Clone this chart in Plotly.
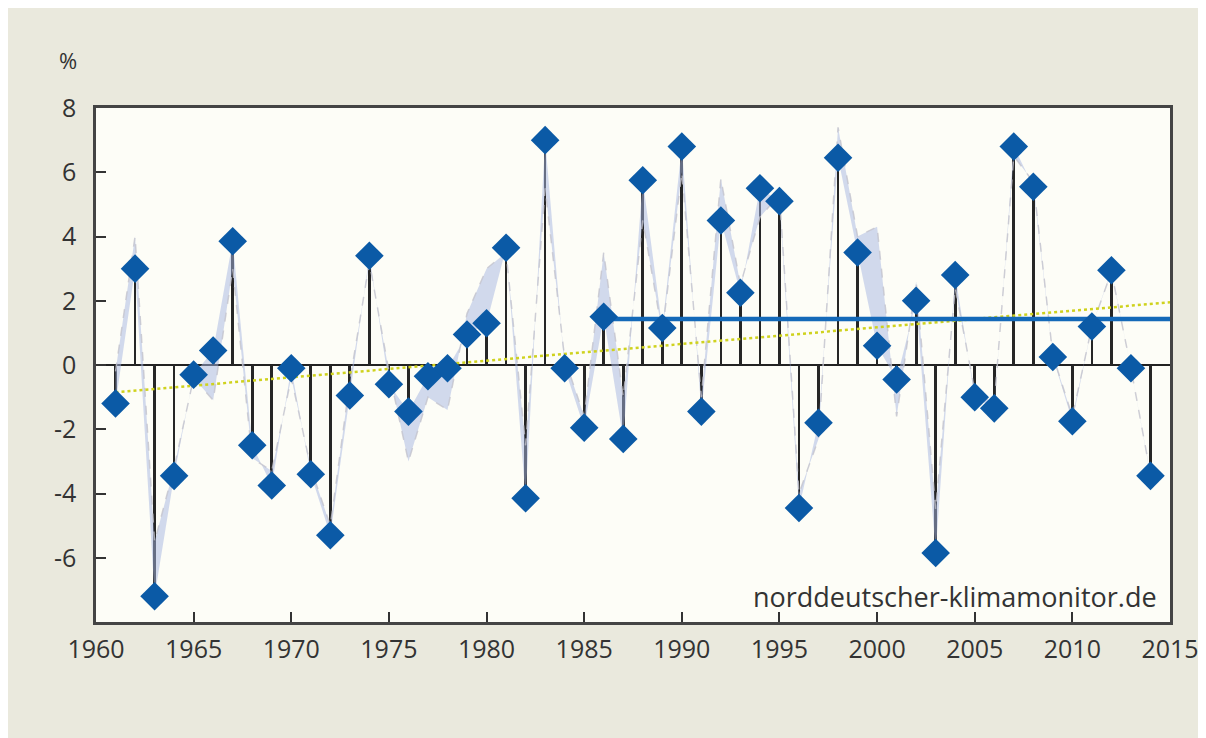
import plotly.graph_objects as go

years = list(range(1961, 2015))
values = [-1.2, 3.0, -7.2, -3.45, -0.3, 0.45, 3.85, -2.5, -3.75, -0.1,
          -3.4, -5.3, -0.95, 3.4, -0.6, -1.45, -0.35, -0.1, 0.95, 1.3,
          3.65, -4.15, 7.0, -0.1, -1.95, 1.5, -2.3, 5.75, 1.15, 6.8,
          -1.45, 4.5, 2.25, 5.5, 5.1, -4.45, -1.8, 6.45, 3.5, 0.6,
          -0.45, 2.0, -5.85, 2.8, -1.0, -1.35, 6.8, 5.55, 0.25, -1.75,
          1.2, 2.95, -0.1, -3.45]
alt_values = [-0.2, 4.0, -5.5, -3.2, -0.4, -1.1, 3.0, -2.9, -3.3, -0.4,
              -3.2, -5.0, -0.5, 3.2, -0.2, -3.0, -1.0, -1.4, 1.6, 3.0,
              3.5, -2.5, 5.5, 0.2, -1.6, 3.5, -1.0, 4.5, 1.0, 6.0,
              -1.0, 5.8, 2.5, 4.6, 5.3, -4.0, -2.3, 7.4, 4.0, 4.3,
              -1.6, 2.6, -4.5, 2.4, -0.8, -1.2, 6.5, 5.7, 0.3, -1.6,
              1.2, 2.9, -0.1, -3.4]
mean_years = [1986, 2015]
mean_values = [1.43, 1.43]
trend_years = [1961, 2015]
trend_values = [-0.85, 1.95]
x_ticks = [1960, 1965, 1970, 1975, 1980, 1985, 1990, 1995, 2000, 2005, 2010, 2015]
y_ticks = [-6, -4, -2, 0, 2, 4, 6, 8]
y_tick_text = ["-6", "-4", "-2", "0", "2", "4", "6", "8"]

font_family = "Open Sans, Noto Sans, DejaVu Sans, sans-serif"
fig = go.Figure()

# shaded band between data and alternative series
fig.add_trace(go.Scatter(x=years, y=values, mode="lines",
                         line=dict(width=0, color="rgba(0,0,0,0)"),
                         hoverinfo="skip", showlegend=False))
fig.add_trace(go.Scatter(x=years, y=alt_values, mode="lines",
                         line=dict(width=1.5, color="rgba(195,195,205,0.8)", dash="dash"),
                         fill="tonexty", fillcolor="rgba(165,182,225,0.5)",
                         hoverinfo="skip", showlegend=False))

# stems
fig.add_trace(go.Bar(x=years, y=values, width=0.14,
                     marker=dict(color="#262626", line=dict(width=0)),
                     showlegend=False))

# trend
fig.add_trace(go.Scatter(x=trend_years, y=trend_values, mode="lines",
                         line=dict(color="#cfd21e", width=2.5, dash="dot"),
                         showlegend=False))

# mean line
fig.add_trace(go.Scatter(x=mean_years, y=mean_values, mode="lines",
                         line=dict(color="#1469b8", width=4.5),
                         showlegend=False))

# diamonds
fig.add_trace(go.Scatter(x=years, y=values, mode="markers",
                         marker=dict(symbol="diamond", size=22, color="#0b5aa6",
                                     line=dict(width=0)),
                         showlegend=False))

fig.add_hline(y=0, line=dict(color="#222222", width=2), layer="below")

fig.update_layout(
    width=1206, height=738,
    paper_bgcolor="#eae9dd", plot_bgcolor="#fdfdf7",
    margin=dict(l=88, r=44, t=100, b=124),
    font=dict(family=font_family, size=25, color="#333333"),
    bargap=0,
    annotations=[
        dict(text="%", xref="paper", yref="paper", x=-0.026, y=1.06,
             xanchor="center", yanchor="bottom", showarrow=False,
             font=dict(size=22, color="#333333")),
        dict(text="norddeutscher-klimamonitor.de", xref="paper", yref="paper",
             x=0.99, y=0.01, xanchor="right", yanchor="bottom", showarrow=False,
             font=dict(size=27, color="#333333")),
    ],
)
fig.update_xaxes(range=[1960, 2015], tickvals=x_ticks, ticks="inside", ticklen=10,
                 tickwidth=2, tickcolor="#333333", showgrid=False, zeroline=False,
                 showline=True, linecolor="#444444", linewidth=2.5, mirror=True,
                 ticklabelstandoff=3)
fig.update_yaxes(range=[-8, 8], tickvals=y_ticks, ticktext=y_tick_text,
                 ticks="inside", ticklen=10, tickwidth=2, tickcolor="#333333",
                 showgrid=False, zeroline=False, showline=True,
                 linecolor="#444444", linewidth=2.5, mirror=True,
                 ticklabelstandoff=12)

fig.write_html("out.html")
